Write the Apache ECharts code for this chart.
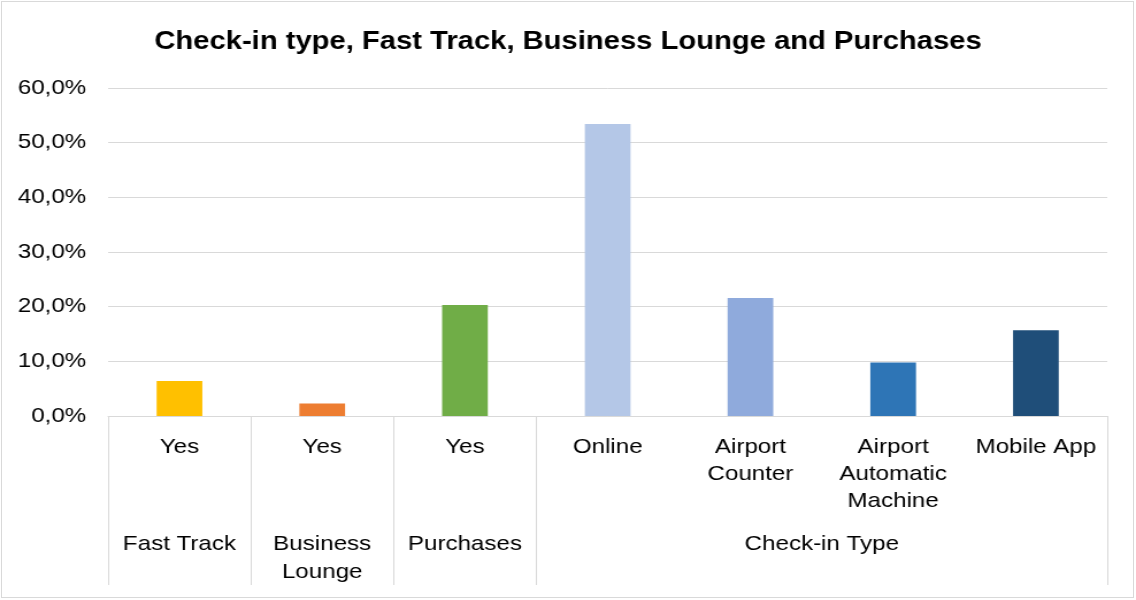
<!DOCTYPE html>
<html>
<head>
<meta charset="utf-8">
<script src="https://cdn.jsdelivr.net/npm/echarts@6/dist/echarts.min.js"></script>
<style>
  html, body { margin: 0; padding: 0; background: #fff; overflow: hidden; }
  #chart { position: absolute; left: 0; top: 0; width: 988px; height: 600px;
           transform: scaleX(1.1498); transform-origin: 0 0; }
  #frame { position: absolute; left: 1px; top: 1px; width: 1133px; height: 597px;
           border: 1px solid #d9d9d9; box-sizing: border-box; pointer-events: none; }
</style>
</head>
<body>
<div id="chart"></div>
<div id="frame"></div>
<script>
// Inner category labels (first level) and their share of respondents, in percent
const categories = ['Yes', 'Yes', 'Yes', 'Online', 'Airport\nCounter', 'Airport\nAutomatic\nMachine', 'Mobile App'];
const values = [6.4, 2.3, 20.3, 53.4, 21.6, 9.8, 15.7];
const barColors = ['#FFC000', '#ED7D31', '#70AD47', '#B4C7E7', '#8FAADC', '#2E75B6', '#1F4E79'];

// Outer category labels (second level) and how many inner categories each spans
const groups = ['Fast Track', 'Business\nLounge', 'Purchases', 'Check-in Type'];
const groupSpans = [1, 1, 1, 4];

// Y axis ticks
const yMin = 0, yMax = 60, yStep = 10;

// Group boundaries and centres on a 0..N scale matching the category band
const boundaries = [0];
const centres = [];
groupSpans.forEach(function (n) {
  const start = boundaries[boundaries.length - 1];
  centres.push(start + n / 2);
  boundaries.push(start + n);
});

const FONT = "'Liberation Sans', Arial, sans-serif";
const GRID_COLOR = '#d9d9d9';

const chart = echarts.init(document.getElementById('chart'), null, { renderer: 'canvas' });
chart.setOption({
  animation: false,
  backgroundColor: '#ffffff',
  title: {
    text: 'Check-in type, Fast Track, Business Lounge and Purchases',
    left: 'center',
    top: 24,
    textStyle: { fontFamily: FONT, fontSize: 25.4, fontWeight: 'bold', color: '#000' }
  },
  grid: { left: 94, right: 25, top: 88, bottom: 184, containLabel: false, outerBoundsMode: 'none' },
  xAxis: [
    {
      type: 'category',
      data: categories,
      boundaryGap: true,
      axisLine: { show: true, lineStyle: { color: GRID_COLOR, width: 1 } },
      axisTick: { show: false },
      axisLabel: {
        interval: 0, margin: 18, fontFamily: FONT, fontSize: 21, lineHeight: 27, color: '#000'
      }
    },
    {
      type: 'value',
      position: 'bottom',
      min: 0,
      max: categories.length,
      axisLine: { show: false },
      splitLine: { show: false },
      axisTick: {
        show: true, customValues: boundaries, length: 169, inside: false,
        lineStyle: { color: GRID_COLOR, width: 1 }
      },
      axisLabel: {
        show: true, customValues: centres, margin: 114,
        fontFamily: FONT, fontSize: 21, lineHeight: 28, color: '#000',
        formatter: function (v) {
          const i = centres.indexOf(v);
          return i >= 0 ? groups[i] : '';
        }
      }
    }
  ],
  yAxis: {
    type: 'value',
    min: yMin, max: yMax, interval: yStep,
    axisLine: { show: false },
    axisTick: { show: false },
    splitLine: { show: true, lineStyle: { color: GRID_COLOR, width: 1 } },
    axisLabel: {
      margin: 19, fontFamily: FONT, fontSize: 21, color: '#000',
      formatter: function (v) { return v.toFixed(1).replace('.', ',') + '%'; }
    }
  },
  series: [{
    type: 'bar',
    xAxisIndex: 0,
    barWidth: '32%',
    data: values.map(function (v, i) {
      return { value: v, itemStyle: { color: barColors[i] } };
    })
  }]
});
</script>
</body>
</html>
